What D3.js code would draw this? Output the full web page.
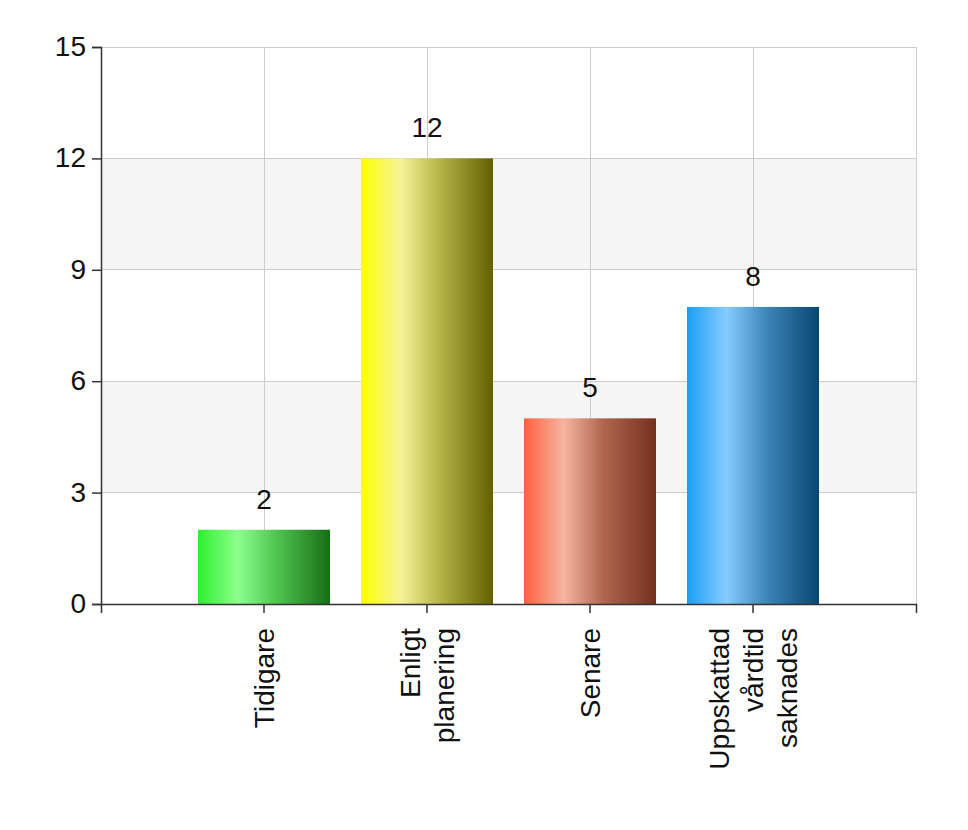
<!DOCTYPE html>
<html>
<head>
<meta charset="utf-8">
<script src="https://cdn.jsdelivr.net/npm/d3@7"></script>
<style>
  html, body { margin: 0; padding: 0; background: #fff; }
  svg text { font-family: "Liberation Sans", Arial, sans-serif; fill: #111; }
</style>
</head>
<body>
<svg id="chart" width="968" height="830"></svg>
<script>
// ---- data ----
const categories = [["Tidigare"], ["Enligt", "planering"], ["Senare"], ["Uppskattad", "vårdtid", "saknades"]];
const values = [2, 12, 5, 8];
const yTicks = [0, 3, 6, 9, 12, 15];

// ---- style ----
const gradients = [
  ["#2ef02e", "#8cff8c", "#4fc44f", "#166e16"],
  ["#ffff00", "#f6f39a", "#b6b347", "#626000"],
  ["#ff6040", "#f6b4a0", "#b0664e", "#74301e"],
  ["#1a9ef4", "#86ccff", "#3d86b8", "#084670"]
];
const FS = 28;

const svg = d3.select("#chart");
const margin = { left: 101, right: 52, top: 47, bottom: 226 };
const W = 968, H = 830;
const x0 = margin.left, x1 = W - margin.right, y0 = H - margin.bottom, y1 = margin.top;

const keys = categories.map(c => c.join(" "));
const x = d3.scaleBand().domain(keys).range([x0, x1]).paddingInner(0.19).paddingOuter(0.595);
const y = d3.scaleLinear().domain([0, 15]).range([y0, y1]);

// gradients
const defs = svg.append("defs");
gradients.forEach((g, i) => {
  const lg = defs.append("linearGradient").attr("id", "g" + i)
    .attr("x1", "0%").attr("x2", "100%").attr("y1", "0%").attr("y2", "0%");
  [0, 0.3, 0.6, 1].forEach((o, j) => lg.append("stop").attr("offset", o).attr("stop-color", g[j]));
});

// alternating bands
for (let i = 0; i < yTicks.length - 1; i++) {
  if (i % 2 === 1) {
    svg.append("rect").attr("x", x0).attr("width", x1 - x0)
      .attr("y", y(yTicks[i + 1])).attr("height", y(yTicks[i]) - y(yTicks[i + 1]))
      .attr("fill", "#f5f5f5");
  }
}

// gridlines
const grid = svg.append("g").attr("stroke", "#cccccc").attr("stroke-width", 1).attr("shape-rendering", "crispEdges");
yTicks.forEach(t => grid.append("line").attr("x1", x0).attr("x2", x1).attr("y1", y(t)).attr("y2", y(t)));
keys.forEach(k => {
  const cx = x(k) + x.bandwidth() / 2;
  grid.append("line").attr("x1", cx).attr("x2", cx).attr("y1", y1).attr("y2", y0);
});
grid.append("line").attr("x1", x1).attr("x2", x1).attr("y1", y1).attr("y2", y0);

// bars
svg.append("g").selectAll("rect").data(values).join("rect")
  .attr("x", (d, i) => x(keys[i]))
  .attr("width", x.bandwidth())
  .attr("y", d => y(d))
  .attr("height", d => y(0) - y(d))
  .attr("fill", (d, i) => `url(#g${i})`);

// value labels
svg.append("g").selectAll("text").data(values).join("text")
  .attr("x", (d, i) => x(keys[i]) + x.bandwidth() / 2)
  .attr("y", d => y(d) - 21)
  .attr("text-anchor", "middle")
  .attr("font-size", FS)
  .text(d => d);

// y axis
const yAxis = svg.append("g").attr("transform", `translate(${x0},0)`)
  .call(d3.axisLeft(y).tickValues(yTicks).tickSize(9).tickPadding(6));
yAxis.selectAll("text").attr("font-size", FS).attr("fill", "#111").attr("dy", "0.3em");

// x axis
const xAxis = svg.append("g").attr("transform", `translate(0,${y0})`)
  .call(d3.axisBottom(x).tickSize(9).tickSizeOuter(9).tickFormat(""));

[yAxis, xAxis].forEach(a => {
  a.select(".domain").attr("stroke", "#333").attr("stroke-width", 1.5);
  a.selectAll(".tick line").attr("stroke", "#333").attr("stroke-width", 1.5);
});

// category labels
const lh = 34;
keys.forEach((k, i) => {
  const cx = x(k) + x.bandwidth() / 2;
  const lines = categories[i];
  const t = svg.append("text")
    .attr("transform", `translate(${cx},${y0}) rotate(-90)`)
    .attr("text-anchor", "end")
    .attr("font-size", FS);
  lines.forEach((ln, j) => {
    t.append("tspan").attr("x", -24)
      .attr("y", (j - (lines.length - 1) / 2) * lh)
      .attr("dy", "0.35em")
      .text(ln);
  });
});
</script>
</body>
</html>
